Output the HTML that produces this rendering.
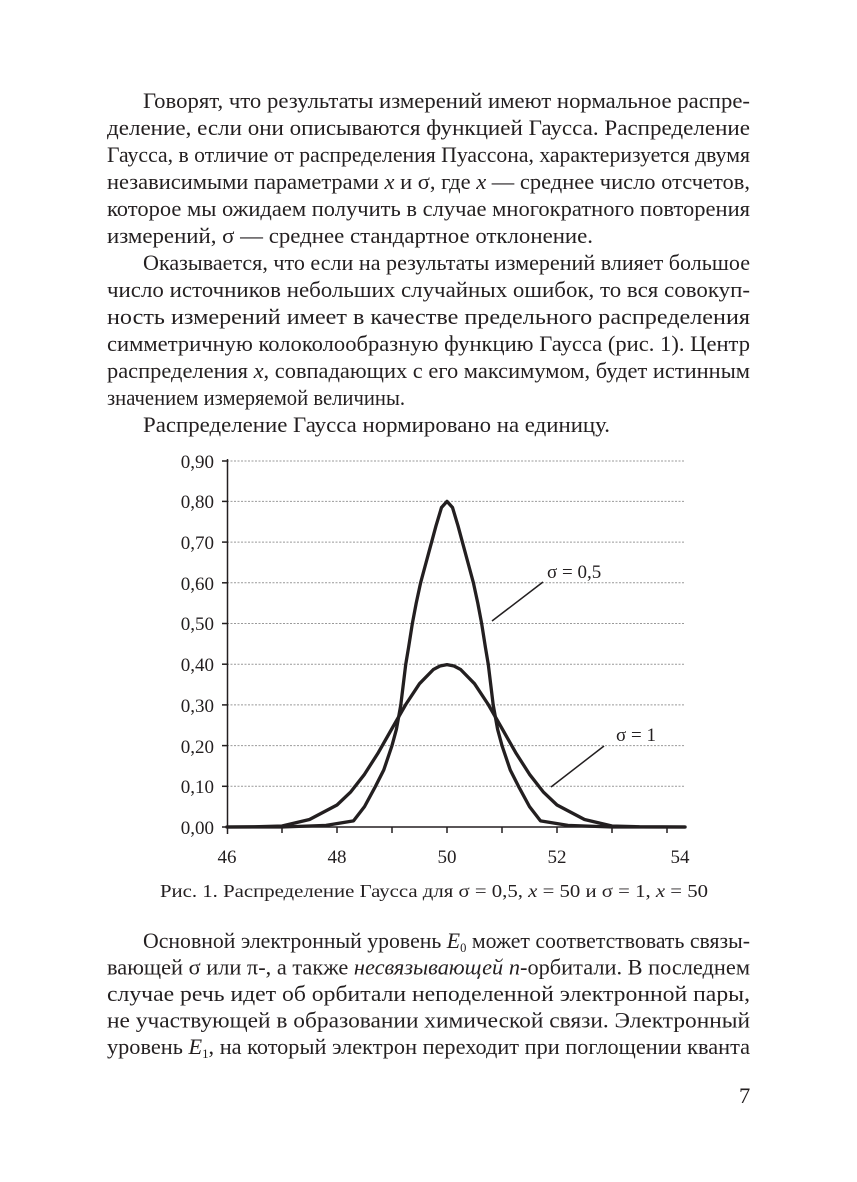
<!DOCTYPE html>
<html><head><meta charset="utf-8"><style>
html,body{margin:0;padding:0;background:#fff}
svg{display:block}
text{font-family:"Liberation Serif",serif;fill:#231f20}
.t{font-size:22.5px}
.a{font-size:19px}
</style></head><body>
<svg width="857" height="1182" viewBox="0 0 857 1182" xmlns="http://www.w3.org/2000/svg">
<text class="t" x="143" y="108" textLength="607" lengthAdjust="spacingAndGlyphs">Говорят, что результаты измерений имеют нормальное распре-</text>
<text class="t" x="107" y="135" textLength="643" lengthAdjust="spacingAndGlyphs">деление, если они описываются функцией Гаусса. Распределение</text>
<text class="t" x="107" y="162" textLength="643" lengthAdjust="spacingAndGlyphs">Гаусса, в отличие от распределения Пуассона, характеризуется двумя</text>
<text class="t" x="107" y="189" textLength="643" lengthAdjust="spacingAndGlyphs">независимыми параметрами <tspan font-style="italic">x</tspan> и σ, где <tspan font-style="italic">x</tspan> — среднее число отсчетов,</text>
<text class="t" x="107" y="216" textLength="643" lengthAdjust="spacingAndGlyphs">которое мы ожидаем получить в случае многократного повторения</text>
<text class="t" x="107" y="243" textLength="486" lengthAdjust="spacingAndGlyphs">измерений, σ — среднее стандартное отклонение.</text>
<text class="t" x="143" y="270" textLength="607" lengthAdjust="spacingAndGlyphs">Оказывается, что если на результаты измерений влияет большое</text>
<text class="t" x="107" y="297" textLength="643" lengthAdjust="spacingAndGlyphs">число источников небольших случайных ошибок, то вся совокуп-</text>
<text class="t" x="107" y="324" textLength="643" lengthAdjust="spacingAndGlyphs">ность измерений имеет в качестве предельного распределения</text>
<text class="t" x="107" y="351" textLength="643" lengthAdjust="spacingAndGlyphs">симметричную колоколообразную функцию Гаусса (рис. 1). Центр</text>
<text class="t" x="107" y="378" textLength="643" lengthAdjust="spacingAndGlyphs">распределения <tspan font-style="italic">x</tspan>, совпадающих с его максимумом, будет истинным</text>
<text class="t" x="107" y="405" textLength="298" lengthAdjust="spacingAndGlyphs">значением измеряемой величины.</text>
<text class="t" x="143" y="432" textLength="467" lengthAdjust="spacingAndGlyphs">Распределение Гаусса нормировано на единицу.</text>
<!-- chart -->
<g stroke="#999" stroke-width="1" stroke-dasharray="2,1.5">
<line x1="227" x2="685" y1="461" y2="461"/>
<line x1="227" x2="685" y1="501.4" y2="501.4"/>
<line x1="227" x2="685" y1="542.1" y2="542.1"/>
<line x1="227" x2="685" y1="582.8" y2="582.8"/>
<line x1="227" x2="685" y1="623.5" y2="623.5"/>
<line x1="227" x2="685" y1="664.2" y2="664.2"/>
<line x1="227" x2="685" y1="704.9" y2="704.9"/>
<line x1="227" x2="685" y1="745.6" y2="745.6"/>
<line x1="227" x2="685" y1="786.3" y2="786.3"/>
</g>
<g stroke="#231f20" stroke-width="1.5">
<line x1="227.5" y1="459" x2="227.5" y2="834"/>
<line x1="222" y1="827" x2="686" y2="827"/>
<line x1="222" y1="461" x2="227" y2="461"/><line x1="222" y1="501.4" x2="227" y2="501.4"/><line x1="222" y1="542.1" x2="227" y2="542.1"/><line x1="222" y1="582.8" x2="227" y2="582.8"/><line x1="222" y1="623.5" x2="227" y2="623.5"/><line x1="222" y1="664.2" x2="227" y2="664.2"/><line x1="222" y1="704.9" x2="227" y2="704.9"/><line x1="222" y1="745.6" x2="227" y2="745.6"/><line x1="222" y1="786.3" x2="227" y2="786.3"/>
<line x1="282" y1="827" x2="282" y2="833"/><line x1="337" y1="827" x2="337" y2="833"/><line x1="392" y1="827" x2="392" y2="833"/><line x1="447" y1="827" x2="447" y2="833"/><line x1="502" y1="827" x2="502" y2="833"/><line x1="557" y1="827" x2="557" y2="833"/><line x1="612" y1="827" x2="612" y2="833"/><line x1="667" y1="827" x2="667" y2="833"/>
</g>
<g text-anchor="end">
<text class="a" x="214" y="468">0,90</text>
<text class="a" x="214" y="508">0,80</text>
<text class="a" x="214" y="549">0,70</text>
<text class="a" x="214" y="590">0,60</text>
<text class="a" x="214" y="630">0,50</text>
<text class="a" x="214" y="671">0,40</text>
<text class="a" x="214" y="712">0,30</text>
<text class="a" x="214" y="753">0,20</text>
<text class="a" x="214" y="793">0,10</text>
<text class="a" x="214" y="834">0,00</text>
</g>
<g text-anchor="middle">
<text class="a" x="227" y="863">46</text>
<text class="a" x="337" y="863">48</text>
<text class="a" x="447" y="863">50</text>
<text class="a" x="557" y="863">52</text>
<text class="a" x="680" y="863">54</text>
</g>
<g fill="none" stroke="#231f20" stroke-width="3.3" stroke-linejoin="round" stroke-linecap="round">
<polyline points="227,827 254.5,826.8 282,826 309.5,819.5 337,805 350.75,791.9 364.5,774.3 378.25,752.7 392,728.5 405.75,704.5 419.5,683.7 433.25,669.6 440,666 447,664.6 454,666 460.75,669.6 474.5,683.7 488.25,704.5 502,728.5 515.75,752.7 529.5,774.3 543.25,791.9 557,805 584.5,819.5 612,826 639.5,826.8 685,827"/>
<polyline points="227,827 282,827 326,825.4 353.5,820.9 364.5,806.6 375.5,786.3 383.75,770 392,745.6 396.4,729.3 400.8,704.9 405.75,664.2 408.5,647.9 412.35,623.5 416.2,603.2 420.6,582.8 425,566.5 430.5,546.2 436,525.8 441.5,507.5 447,501.4 452.5,507.5 458,525.8 463.5,546.2 469,566.5 473.4,582.8 477.8,603.2 481.65,623.5 485.5,647.9 488.25,664.2 493.2,704.9 497.6,729.3 502,745.6 510.25,770 518.5,786.3 529.5,806.6 540.5,820.9 568,825.4 612,827 685,827"/>
</g>
<g stroke="#231f20" stroke-width="1.5">
<line x1="543" y1="582" x2="492" y2="621"/>
<line x1="604" y1="746" x2="551" y2="787"/>
</g>
<text class="a" x="547" y="578">σ = 0,5</text>
<text class="a" x="616" y="741">σ = 1</text>
<text x="160" y="897" font-size="18" textLength="548" lengthAdjust="spacingAndGlyphs">Рис. 1. Распределение Гаусса для σ = 0,5, <tspan font-style="italic">x</tspan> = 50 и σ = 1, <tspan font-style="italic">x</tspan> = 50</text>
<text class="t" x="143" y="948" textLength="607" lengthAdjust="spacingAndGlyphs">Основной электронный уровень <tspan font-style="italic">E</tspan><tspan font-size="13" dy="4">0</tspan><tspan dy="-4"> может соответствовать связы-</tspan></text>
<text class="t" x="107" y="974.5" textLength="643" lengthAdjust="spacingAndGlyphs">вающей σ или π-, а также <tspan font-style="italic">несвязывающей n</tspan>-орбитали. В последнем</text>
<text class="t" x="107" y="1001" textLength="643" lengthAdjust="spacingAndGlyphs">случае речь идет об орбитали неподеленной электронной пары,</text>
<text class="t" x="107" y="1027.5" textLength="643" lengthAdjust="spacingAndGlyphs">не участвующей в образовании химической связи. Электронный</text>
<text class="t" x="107" y="1054" textLength="643" lengthAdjust="spacingAndGlyphs">уровень <tspan font-style="italic">E</tspan><tspan font-size="13" dy="4">1</tspan><tspan dy="-4">, на который электрон переходит при поглощении кванта</tspan></text>
<text class="t" x="739" y="1103">7</text>
</svg>
</body></html>
